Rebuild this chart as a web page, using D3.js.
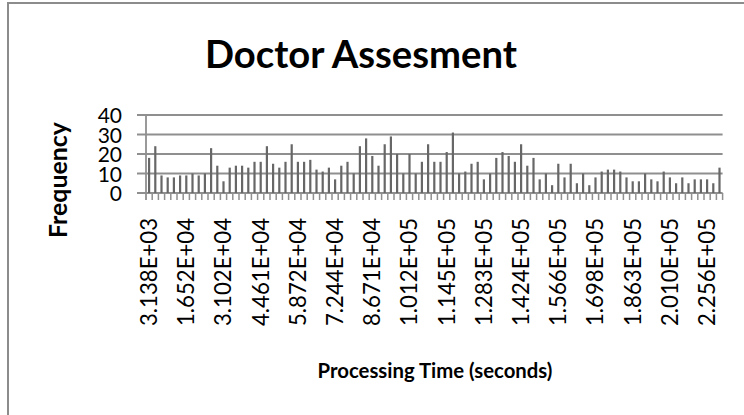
<!DOCTYPE html>
<html>
<head>
<meta charset="utf-8">
<script src="https://cdn.jsdelivr.net/npm/d3@7"></script>
<style>
  html, body { margin: 0; padding: 0; background: #fff; }
  svg { display: block; }
  text { font-family: Lato, "Open Sans", sans-serif; fill: #000; }
</style>
</head>
<body>
<svg id="chart" width="744" height="415"></svg>
<script>
// Frequency per processing-time bin (93 bins)
const frequencies = [
  18, 24, 9, 8, 8, 9, 9, 10, 9, 10,
  23, 14, 6, 13, 14, 14, 13, 16, 16, 24,
  15, 13, 16, 25, 16, 16, 17, 12, 11, 13,
  7, 14, 16, 10, 24, 28, 19, 14, 25, 29,
  20, 10, 20, 10, 16, 25, 16, 16, 21, 31,
  10, 11, 15, 16, 7, 10, 18, 21, 19, 16,
  25, 14, 18, 7, 10, 4, 15, 8, 15, 5,
  10, 4, 8, 11, 12, 12, 11, 8, 6, 6,
  10, 7, 6, 11, 8, 5, 8, 5, 7, 7,
  7, 5, 13
];
// Bin labels shown on the category axis (every sixth bin)
const binLabels = [
  "3.138E+03", "1.652E+04", "3.102E+04", "4.461E+04", "5.872E+04", "7.244E+04",
  "8.671E+04", "1.012E+05", "1.145E+05", "1.283E+05", "1.424E+05", "1.566E+05",
  "1.698E+05", "1.863E+05", "2.010E+05", "2.256E+05"
];
const labelStep = 6;
const yTicks = [0, 10, 20, 30, 40];

const svg = d3.select("#chart");

// chart area border
svg.append("rect")
  .attr("x", 8).attr("y", 3)
  .attr("width", 760).attr("height", 430)
  .attr("fill", "none").attr("stroke", "#8c8c8c").attr("stroke-width", 2);

const plot = { left: 146, right: 722.6, top: 115, bottom: 193 };

const x = d3.scaleBand()
  .domain(d3.range(frequencies.length))
  .range([plot.left, plot.right])
  .padding(0);

const y = d3.scaleLinear().domain([0, 40]).range([plot.bottom, plot.top]);

// horizontal gridlines with short outer ticks
svg.append("g").selectAll("line")
  .data(yTicks)
  .join("line")
  .attr("x1", plot.left - 9).attr("x2", plot.right)
  .attr("y1", d => y(d)).attr("y2", d => y(d))
  .attr("stroke", "#8f8f8f").attr("stroke-width", 1.8);

// value axis line
svg.append("line")
  .attr("x1", plot.left).attr("x2", plot.left)
  .attr("y1", y(40)).attr("y2", plot.bottom + 7)
  .attr("stroke", "#8f8f8f").attr("stroke-width", 1.8);

// category boundary ticks
svg.append("g").selectAll("line")
  .data(d3.range(1, frequencies.length + 1))
  .join("line")
  .attr("x1", i => x(i - 1) + x.bandwidth())
  .attr("x2", i => x(i - 1) + x.bandwidth())
  .attr("y1", plot.bottom).attr("y2", plot.bottom + 7)
  .attr("stroke", "#8f8f8f").attr("stroke-width", 1.5);

// bars
const barW = 2.2;
svg.append("g").selectAll("rect")
  .data(frequencies)
  .join("rect")
  .attr("x", (d, i) => x(i) + x.bandwidth() / 2 - barW / 2)
  .attr("y", d => y(d))
  .attr("width", barW)
  .attr("height", d => y(0) - y(d))
  .attr("fill", "#676767");

// value axis labels
const yAxis = d3.axisLeft(y).tickValues(yTicks).tickSize(0).tickPadding(0);
const yg = svg.append("g")
  .attr("transform", `translate(${plot.left - 24},0)`)
  .call(yAxis);
yg.select(".domain").remove();
yg.selectAll("text")
  .style("font-family", "Lato, sans-serif")
  .attr("font-size", 21)
  .attr("dy", "0.36em")
  .attr("fill", "#000");

// category axis labels
const xAxis = d3.axisBottom(x)
  .tickValues(d3.range(0, frequencies.length, labelStep))
  .tickFormat(i => binLabels[i / labelStep])
  .tickSize(0);
const xg = svg.append("g")
  .attr("transform", `translate(0,${plot.bottom})`)
  .call(xAxis);
xg.select(".domain").remove();
xg.selectAll("text")
  .style("font-family", "Lato, sans-serif")
  .attr("font-size", 19)
  .attr("text-anchor", "end")
  .attr("transform", "rotate(-90)")
  .attr("x", -25)
  .attr("y", 0)
  .attr("dy", "0.36em")
  .attr("fill", "#000");

// fit a text element to a target width by adjusting its font size
function fitWidth(sel, target) {
  const node = sel.node();
  const fs = parseFloat(sel.attr("font-size"));
  const w = node.getComputedTextLength();
  sel.attr("font-size", (fs * target / w).toFixed(2));
}

// fit category labels
const sample = xg.select("text");
const xfs = parseFloat(sample.attr("font-size"));
const xw = sample.node().getComputedTextLength();
xg.selectAll("text").attr("font-size", (xfs * 108 / xw).toFixed(2));

// title
const title = svg.append("text")
  .attr("x", 361).attr("y", 68)
  .attr("text-anchor", "middle")
  .attr("font-weight", "bold")
  .attr("font-size", 36)
  .text("Doctor Assesment");
fitWidth(title, 312);

// axis titles
const yTitle = svg.append("text")
  .attr("transform", "translate(67,180) rotate(-90)")
  .attr("text-anchor", "middle")
  .attr("font-weight", "bold")
  .attr("font-size", 18)
  .text("Frequency");
fitWidth(yTitle, 116);

const xTitle = svg.append("text")
  .attr("x", 435).attr("y", 378)
  .attr("text-anchor", "middle")
  .attr("font-weight", "bold")
  .attr("font-size", 18)
  .text("Processing Time (seconds)");
fitWidth(xTitle, 235);
</script>
</body>
</html>
